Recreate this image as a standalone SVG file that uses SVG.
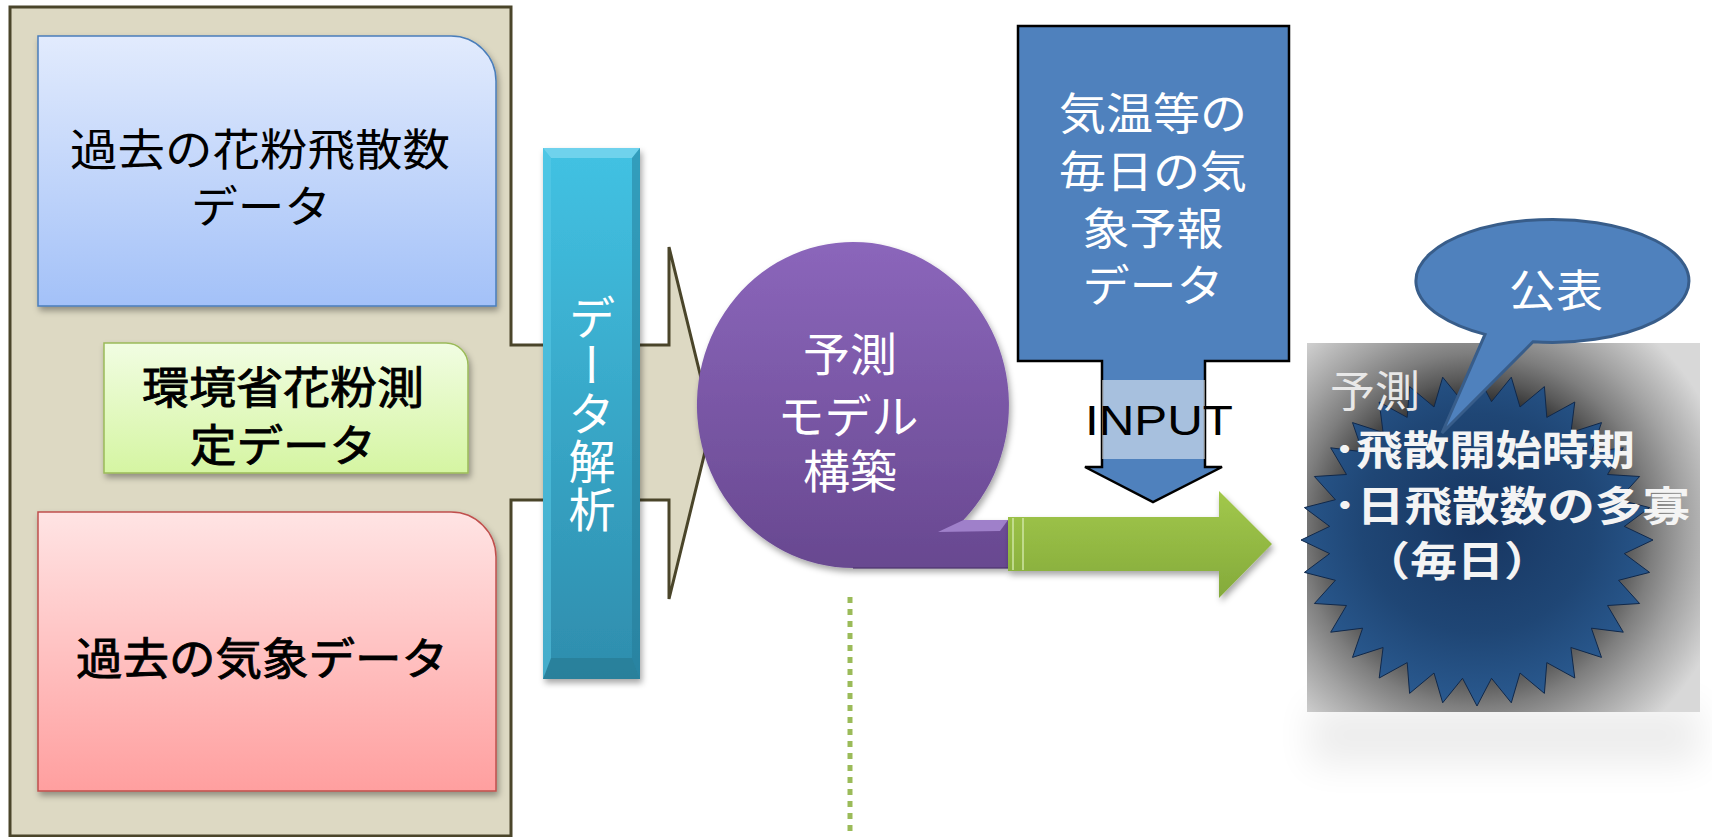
<svg xmlns="http://www.w3.org/2000/svg" width="1712" height="837" viewBox="0 0 1712 837">
<defs>
<style>
.jp{font-family:"Noto Sans CJK JP","Noto Sans CJK SC",sans-serif;}
.c{text-anchor:middle;dominant-baseline:central;}
.w{fill:#ffffff;}
.k{fill:#000000;}
.b{font-weight:bold;}
.m{stroke:#000000;stroke-width:0.9;}
.f44{font-size:44px;}
.f46{font-size:46px;}
</style>
<linearGradient id="gBlue" x1="0" y1="0" x2="0" y2="1"><stop offset="0" stop-color="#e2ebfd"/><stop offset="1" stop-color="#a3c1f8"/></linearGradient>
<linearGradient id="gGreen" x1="0" y1="0" x2="0" y2="1"><stop offset="0" stop-color="#f1fde2"/><stop offset="1" stop-color="#d5f5a2"/></linearGradient>
<linearGradient id="gRed" x1="0" y1="0" x2="0" y2="1"><stop offset="0" stop-color="#ffe4e4"/><stop offset="1" stop-color="#ff9f9f"/></linearGradient>
<linearGradient id="gCyan" x1="0" y1="0" x2="0" y2="1"><stop offset="0" stop-color="#42c2e3"/><stop offset="1" stop-color="#2e8dad"/></linearGradient>
<linearGradient id="gPurple" x1="0" y1="0" x2="0" y2="1"><stop offset="0" stop-color="#8b66bb"/><stop offset="1" stop-color="#684890"/></linearGradient>
<linearGradient id="gArrow" x1="0" y1="0" x2="0" y2="1"><stop offset="0" stop-color="#a2c84b"/><stop offset="1" stop-color="#84aa3b"/></linearGradient>
<radialGradient id="gGlow" gradientUnits="userSpaceOnUse" cx="1477" cy="530" r="260">
<stop offset="0" stop-color="#222222"/><stop offset="0.5" stop-color="#333333"/><stop offset="0.58" stop-color="#585858"/><stop offset="0.68" stop-color="#7e7e7e"/><stop offset="0.8" stop-color="#a2a2a2"/><stop offset="0.92" stop-color="#c2c2c2"/><stop offset="1" stop-color="#d8d8d8"/>
</radialGradient>
<radialGradient id="gStar" cx="0.5" cy="0.45" r="0.55">
<stop offset="0" stop-color="#173560"/><stop offset="0.6" stop-color="#1f4675"/><stop offset="1" stop-color="#2a5a90"/>
</radialGradient>
<filter id="sh" x="-10%" y="-10%" width="130%" height="130%"><feDropShadow dx="2" dy="4" stdDeviation="3" flood-color="#000" flood-opacity="0.35"/></filter>
<filter id="blur" x="-30%" y="-100%" width="160%" height="300%"><feGaussianBlur stdDeviation="18"/></filter>
</defs>
<rect width="1712" height="837" fill="#ffffff"/>

<g id="container">
<polygon points="10,7 511,7 511,345 669,345 669,247 712,423 669,599 669,500 511,500 511,836 10,836" fill="#ddd9c3" stroke="#4a452a" stroke-width="3" stroke-linejoin="miter"/>
</g>

<g id="past-pollen">
<path d="M38,36 H451 A45,45 0 0 1 496,81 V306 H38 Z" fill="url(#gBlue)" stroke="#4a7ebb" stroke-width="1.5" filter="url(#sh)"/>
<text class="jp c k f44" x="260" y="147" textLength="380" lengthAdjust="spacingAndGlyphs">過去の花粉飛散数</text>
<text class="jp c k f44" x="261" y="204" textLength="140" lengthAdjust="spacingAndGlyphs">データ</text>
</g>

<g id="moe-data">
<path d="M104,343 H446 A22,22 0 0 1 468,365 V473 H104 Z" fill="url(#gGreen)" stroke="#9bbb59" stroke-width="1.5" filter="url(#sh)"/>
<text class="jp c k m f44" x="283" y="385" textLength="282" lengthAdjust="spacingAndGlyphs">環境省花粉測</text>
<text class="jp c k m f44" x="283" y="443" textLength="186" lengthAdjust="spacingAndGlyphs">定データ</text>
</g>

<g id="past-weather">
<path d="M38,512 H451 A45,45 0 0 1 496,557 V791 H38 Z" fill="url(#gRed)" stroke="#c0504d" stroke-width="1.5" filter="url(#sh)"/>
<text class="jp c k m f44" x="262" y="656" textLength="372" lengthAdjust="spacingAndGlyphs">過去の気象データ</text>
</g>

<g id="analysis">
<rect x="543" y="148" width="97" height="531" fill="url(#gCyan)" filter="url(#sh)"/>
<polygon points="543,148 640,148 632,158 551,158" fill="#7ad6ef" opacity="0.8"/>
<polygon points="543,679 640,679 632,658 551,658" fill="#26788f" opacity="0.6"/>
<polygon points="543,148 551,158 551,658 543,679" fill="#5ccbe8" opacity="0.5"/>
<polygon points="640,148 632,158 632,658 640,679" fill="#237a96" opacity="0.5"/>
<text class="jp w" x="592" y="294" writing-mode="vertical-rl" style="font-size:47px" letter-spacing="1">データ解析</text>
</g>

<g id="model">
<path d="M853,568 A156,163 0 1 1 963.5,520 L1008,520 L1008,568 Z" fill="url(#gPurple)" filter="url(#sh)"/>
<polygon points="938,532 963.5,520 1008,520 1000,531" fill="#a88ad4" opacity="0.85"/>
<path d="M853,568 H1008" stroke="#4e3470" stroke-width="2" opacity="0.6"/>
<text class="jp c w f46" x="850" y="351" textLength="94" lengthAdjust="spacingAndGlyphs">予測</text>
<text class="jp c w f46" x="848" y="413" textLength="141" lengthAdjust="spacingAndGlyphs">モデル</text>
<text class="jp c w f46" x="850" y="468" textLength="94" lengthAdjust="spacingAndGlyphs">構築</text>
</g>

<g id="forecast-input">
<path d="M1018,26 H1289 V361 H1205 V467 H1222 L1153,502 L1085,467 H1102 V361 H1018 Z" fill="#4f81bd" stroke="#000000" stroke-width="2.5" stroke-linejoin="miter"/>
<rect x="1102" y="380" width="103" height="79" fill="#ffffff" opacity="0.5"/>
<text class="jp c w f44" x="1153" y="111" textLength="188" lengthAdjust="spacingAndGlyphs">気温等の</text>
<text class="jp c w f44" x="1153" y="169" textLength="188" lengthAdjust="spacingAndGlyphs">毎日の気</text>
<text class="jp c w f44" x="1153" y="226" textLength="141" lengthAdjust="spacingAndGlyphs">象予報</text>
<text class="jp c w f44" x="1153" y="283" textLength="141" lengthAdjust="spacingAndGlyphs">データ</text>
<text x="1159" y="435" text-anchor="middle" font-family="'Liberation Sans',Arial,sans-serif" font-size="42" fill="#000" textLength="148" lengthAdjust="spacingAndGlyphs">INPUT</text>
</g>

<g id="connectors">
<polygon points="1008,517 1219,517 1219,491 1272,544 1219,598 1219,571 1008,571" fill="url(#gArrow)" filter="url(#sh)"/>
<line x1="1013" y1="518" x2="1013" y2="570" stroke="#cfe6a3" stroke-width="1.5"/>
<line x1="1023" y1="518" x2="1023" y2="570" stroke="#cfe6a3" stroke-width="1.5"/>
<line x1="850" y1="597" x2="850" y2="837" stroke="#9bbb59" stroke-width="5" stroke-dasharray="6 6"/>
</g>

<g id="result">
<rect x="1310" y="705" width="390" height="60" fill="#000" opacity="0.07" filter="url(#blur)"/>
<rect x="1307" y="343" width="393" height="369" fill="url(#gGlow)"/>
<polygon fill="url(#gStar)" stroke="#10284a" stroke-width="1" points="1653,540 1624.3,553.6 1649.6,572.4 1618.6,580.3 1639.6,603.5 1607.5,605.5 1623.3,632.2 1591.4,628.2 1601.5,657.4 1570.9,647.5 1574.8,678 1546.8,662.6 1544.4,693.4 1520,673 1511.3,702.8 1491.5,678.3 1477,706 1462.5,678.3 1442.7,702.8 1434,673 1409.6,693.4 1407.2,662.6 1379.2,678 1383.1,647.5 1352.5,657.4 1362.6,628.2 1330.7,632.2 1346.5,605.5 1314.4,603.5 1335.4,580.3 1304.4,572.4 1329.7,553.6 1301,540 1329.7,526.4 1304.4,507.6 1335.4,499.7 1314.4,476.5 1346.5,474.5 1330.7,447.8 1362.6,451.8 1352.5,422.6 1383.1,432.5 1379.2,402 1407.2,417.4 1409.6,386.6 1434,407 1442.7,377.2 1462.5,401.7 1477,374 1491.5,401.7 1511.3,377.2 1520,407 1544.4,386.6 1546.8,417.4 1574.8,402 1570.9,432.5 1601.5,422.6 1591.4,451.8 1623.3,447.8 1607.5,474.5 1639.6,476.5 1618.6,499.7 1649.6,507.6 1624.3,526.4"/>
<text class="jp" x="1330" y="388" dominant-baseline="central" font-size="43" fill="#e8e8e8" textLength="90" lengthAdjust="spacingAndGlyphs">予測</text>
</g>

<g id="publish">
<path d="M1485,334.4 A136.5,61.5 0 1 1 1533,341.8 L1442,433 Z" fill="#4f81bd" stroke="#385d8a" stroke-width="3" stroke-linejoin="miter"/>
<text class="jp c w f44" x="1556" y="288" textLength="94" lengthAdjust="spacingAndGlyphs">公表</text>
</g>

<g id="result-text">
<text class="jp b" x="1333" y="447" dominant-baseline="central" font-size="41" fill="#f4f4f4" textLength="302" lengthAdjust="spacingAndGlyphs">･飛散開始時期</text>
<text class="jp b" x="1333" y="503" dominant-baseline="central" font-size="41" fill="#f4f4f4" textLength="357" lengthAdjust="spacingAndGlyphs">･日飛散数の多寡</text>
<text class="jp b" x="1363" y="558" dominant-baseline="central" font-size="41" fill="#f4f4f4" textLength="188" lengthAdjust="spacingAndGlyphs">（毎日）</text>
</g>
</svg>
